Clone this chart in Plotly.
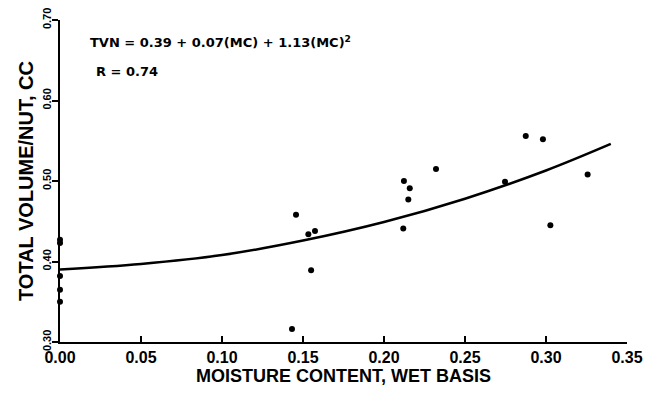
import plotly.graph_objects as go

# Observed data points (moisture content, total volume per nut)
mc = [0.0, 0.0, 0.0, 0.0, 0.0,
      0.1432, 0.1457, 0.1533, 0.1550, 0.1574,
      0.2119, 0.2123, 0.2150, 0.2159, 0.2321,
      0.2747, 0.2875, 0.2981, 0.3027, 0.3257]
tvn = [0.427, 0.423, 0.382, 0.365, 0.350,
       0.316, 0.458, 0.434, 0.389, 0.438,
       0.441, 0.500, 0.477, 0.491, 0.515,
       0.499, 0.556, 0.552, 0.445, 0.508]

# Fitted curve
curve_x = [0.0, 0.05, 0.10, 0.15, 0.20, 0.25, 0.30, 0.34]
curve_y = [0.390, 0.397, 0.408, 0.426, 0.449, 0.478, 0.513, 0.546]

x_ticks = [0.0, 0.05, 0.10, 0.15, 0.20, 0.25, 0.30, 0.35]
x_tick_labels = ["0.00", "0.05", "0.10", "0.15", "0.20", "0.25", "0.30", "0.35"]
y_ticks = [0.30, 0.40, 0.50, 0.60, 0.70]
y_tick_labels = ["0.30", "0.40", "0.50", "0.60", "0.70"]

FONT = "Liberation Sans"
AFONT = "DejaVu Sans"

fig = go.Figure()
fig.add_trace(go.Scatter(x=curve_x, y=curve_y, mode="lines",
                         line=dict(color="black", width=2.5, shape="spline"),
                         cliponaxis=False, showlegend=False, hoverinfo="skip"))
fig.add_trace(go.Scatter(x=mc, y=tvn, mode="markers",
                         marker=dict(color="black", size=6),
                         cliponaxis=False, showlegend=False))

fig.add_annotation(x=0.017, y=0.673, xref="x", yref="y", xanchor="left", yanchor="middle",
                   text="TVN = 0.39 + 0.07(MC) + 1.13(MC)<sup>2</sup>", showarrow=False,
                   font=dict(family=AFONT, size=13, color="black", weight="bold"))
fig.add_annotation(x=0.021, y=0.636, xref="x", yref="y", xanchor="left", yanchor="middle",
                   text="R = 0.74", showarrow=False,
                   font=dict(family=AFONT, size=13, color="black", weight="bold"))

fig.update_layout(
    width=655, height=396,
    margin=dict(l=52, r=36, t=12, b=62),
    paper_bgcolor="white", plot_bgcolor="white",
    font=dict(family=FONT, color="black"),
    xaxis=dict(range=[0, 0.35], tickvals=x_ticks, ticktext=x_tick_labels, automargin=False,
               showgrid=False, zeroline=False, showline=True, linecolor="black", linewidth=2,
               ticks="inside", ticklen=6, tickwidth=2, tickcolor="black",
               ticklabeloverflow="allow",
               tickfont=dict(family=FONT, size=16, color="black", weight="bold"),
               title=dict(text="MOISTURE CONTENT, WET BASIS", standoff=4,
                          font=dict(family=FONT, size=18, color="black", weight="bold"))),
    yaxis=dict(range=[0.30, 0.70], tickvals=y_ticks, ticktext=y_tick_labels, automargin=False,
               showgrid=False, zeroline=False, showline=True, linecolor="black", linewidth=2,
               ticks="outside", ticklen=6, tickwidth=2, tickcolor="black", tickangle=-90,
               ticklabelstandoff=-3, ticklabeloverflow="allow",
               tickfont=dict(family=FONT, size=11, color="black", weight="bold"),
               title=dict(text="TOTAL VOLUME/NUT, CC", standoff=2,
                          font=dict(family=FONT, size=20, color="black", weight="bold"))),
)

fig.write_html("out.html")
